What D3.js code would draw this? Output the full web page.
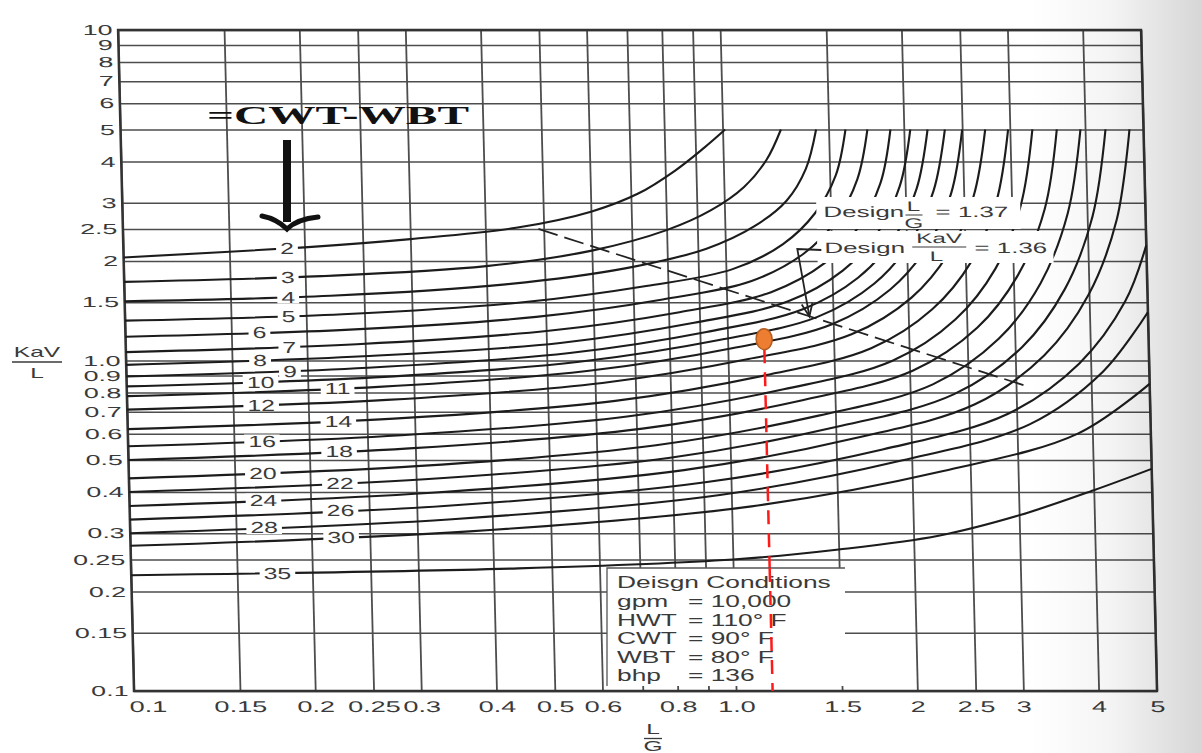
<!DOCTYPE html>
<html>
<head>
<meta charset="utf-8">
<script src="https://cdn.jsdelivr.net/npm/d3@7"></script>
<style>
  body { margin: 0; background: #fff; }
  svg { display: block; }
</style>
</head>
<body>
<svg id="chart" width="1202" height="753"></svg>
<script>
// ---- data ----
const xTicks = [0.1, 0.15, 0.2, 0.25, 0.3, 0.4, 0.5, 0.6, 0.8, 1.0, 1.5, 2, 2.5, 3, 4, 5];
const xTickLabels = ["0.1", "0.15", "0.2", "0.25", "0.3", "0.4", "0.5", "0.6", "0.8", "1.0", "1.5", "2", "2.5", "3", "4", "5"];
const xGrid = [0.1, 0.15, 0.2, 0.25, 0.3, 0.4, 0.5, 0.6, 0.7, 0.8, 0.9, 1.0, 1.5, 2, 2.5, 3, 4, 5];
const yTicks = [0.1, 0.15, 0.2, 0.25, 0.3, 0.4, 0.5, 0.6, 0.7, 0.8, 0.9, 1.0, 1.5, 2, 2.5, 3, 4, 5, 6, 7, 8, 9, 10];
const yTickLabels = ["0.1", "0.15", "0.2", "0.25", "0.3", "0.4", "0.5", "0.6", "0.7", "0.8", "0.9", "1.0", "1.5", "2", "2.5", "3", "4", "5", "6", "7", "8", "9", "10"];

// curve family, one per CWT-WBT value
const approach = [2, 3, 4, 5, 6, 7, 8, 9, 10, 11, 12, 14, 16, 18, 20, 22, 24, 26, 28, 30, 35];
const curveLG = [
  [0.1, 0.2, 0.3, 0.45, 0.6, 0.72, 0.83, 0.93, 1.01],
  [0.1, 0.213, 0.4, 0.6, 0.8, 0.95, 1.08, 1.18, 1.25],
  [0.1, 0.22, 0.43, 0.68, 0.93, 1.12, 1.27, 1.37, 1.43],
  [0.1, 0.23, 0.459, 0.736, 1.026, 1.247, 1.413, 1.535, 1.6],
  [0.1, 0.236, 0.482, 0.783, 1.102, 1.346, 1.531, 1.667, 1.74],
  [0.1, 0.242, 0.505, 0.834, 1.186, 1.459, 1.663, 1.82, 1.9],
  [0.1, 0.248, 0.527, 0.881, 1.265, 1.563, 1.791, 1.959, 2.05],
  [0.1, 0.252, 0.546, 0.923, 1.337, 1.656, 1.905, 2.089, 2.19],
  [0.1, 0.258, 0.566, 0.968, 1.413, 1.762, 2.028, 2.228, 2.34],
  [0.1, 0.262, 0.587, 1.016, 1.493, 1.871, 2.163, 2.382, 2.5],
  [0.1, 0.27, 0.617, 1.081, 1.607, 2.028, 2.35, 2.594, 2.73],
  [0.1, 0.277, 0.647, 1.151, 1.73, 2.193, 2.559, 2.831, 2.98],
  [0.1, 0.285, 0.681, 1.233, 1.875, 2.393, 2.8, 3.105, 3.27],
  [0.1, 0.293, 0.716, 1.318, 2.023, 2.6, 3.055, 3.404, 3.59],
  [0.1, 0.301, 0.753, 1.406, 2.183, 2.82, 3.327, 3.715, 3.93],
  [0.1, 0.31, 0.794, 1.507, 2.366, 3.083, 3.648, 4.083, 4.325],
  [0.1, 0.318, 0.836, 1.61, 2.559, 3.35, 3.99, 4.477, 4.74],
  [0.1, 0.333, 0.906, 1.79, 2.897, 3.83, 4.59, 5.0],
  [0.1, 0.343, 0.957, 1.923, 3.148, 4.188, 5.0],
  [0.1, 0.366, 1.079, 2.254, 3.784, 5.0],
  [0.1, 0.44, 1.0, 1.5, 2.2, 3.0, 4.0, 5.0]
];
const curveKaVL = [
  [2.05, 2.2, 2.33, 2.52, 2.82, 3.2, 3.75, 4.4, 5],
  [1.73, 1.8, 1.93, 2.15, 2.48, 2.85, 3.35, 4.05, 5],
  [1.51, 1.57, 1.7, 1.9, 2.18, 2.55, 3.05, 3.8, 5],
  [1.32, 1.38, 1.5, 1.68, 1.89, 2.25, 2.79, 3.63, 5],
  [1.18, 1.24, 1.355, 1.53, 1.74, 2.1, 2.65, 3.54, 5],
  [1.06, 1.12, 1.23, 1.4, 1.61, 1.97, 2.52, 3.44, 5],
  [0.97, 1.03, 1.13, 1.3, 1.51, 1.87, 2.43, 3.37, 5],
  [0.895, 0.951, 1.054, 1.22, 1.43, 1.78, 2.34, 3.31, 5],
  [0.835, 0.889, 0.991, 1.153, 1.355, 1.71, 2.275, 3.26, 5],
  [0.78, 0.832, 0.931, 1.089, 1.288, 1.64, 2.21, 3.2, 5],
  [0.71, 0.76, 0.855, 1.01, 1.2, 1.55, 2.12, 3.13, 5],
  [0.62, 0.667, 0.755, 0.902, 1.089, 1.429, 1.995, 3.03, 5],
  [0.55, 0.594, 0.678, 0.818, 0.998, 1.33, 1.89, 2.94, 5],
  [0.5, 0.542, 0.622, 0.757, 0.931, 1.256, 1.816, 2.877, 5],
  [0.44, 0.479, 0.554, 0.681, 0.847, 1.163, 1.714, 2.79, 5],
  [0.4, 0.437, 0.508, 0.63, 0.791, 1.099, 1.644, 2.73, 5],
  [0.363, 0.398, 0.466, 0.582, 0.737, 1.036, 1.578, 2.667, 5],
  [0.33, 0.363, 0.428, 0.538, 0.689, 0.98, 1.51, 2.23],
  [0.3, 0.331, 0.392, 0.498, 0.641, 0.925, 1.4],
  [0.275, 0.304, 0.362, 0.463, 0.601, 0.85],
  [0.224, 0.235, 0.25, 0.268, 0.295, 0.34, 0.405, 0.47]
];
// L/G where each curve's number is written
const labelLG = [0.187, 0.187, 0.187, 0.187, 0.167, 0.187, 0.167, 0.187, 0.167, 0.224, 0.167,
                 0.224, 0.167, 0.224, 0.167, 0.224, 0.167, 0.224, 0.167, 0.224, 0.175];

// design operating line and design point
const designLineLG = [0.49, 3.1];
const designLineKaVL = [2.5, 0.84];
const designLG = 1.37;
const designKaVL = 1.36;
// hand-drawn marker added on the scan
const markLG = 1.15;
const markKaVL = 1.16;

const condNames = ["gpm", "HWT", "CWT", "WBT", "bhp"];
const condValues = ["= 10,000", "= 110\u00B0 F", "= 90\u00B0 F", "= 80\u00B0 F", "= 136"];

// ---- drawing ----
const FONT = "'Liberation Sans', Arial, sans-serif";
const INK = "#3a3a3a";
const GRID = "#4d4d4d";
const SX = 1.75;   // the scan is stretched sideways, so is the lettering
const SKEW = 1.38; // degrees the scanned sheet leans
const MID = 361;

const svg = d3.select("#chart");
const defs = svg.append("defs");
const shade = defs.append("linearGradient").attr("id", "shade")
    .attr("x1", 0).attr("x2", 1).attr("y1", 0).attr("y2", 0);
shade.append("stop").attr("offset", 0).attr("stop-color", "#000").attr("stop-opacity", 0);
shade.append("stop").attr("offset", 0.45).attr("stop-color", "#000").attr("stop-opacity", 0.04);
shade.append("stop").attr("offset", 1).attr("stop-color", "#000").attr("stop-opacity", 0.16);

const root = svg.append("g")
    .attr("transform", `translate(0,${MID}) skewX(${SKEW}) translate(0,${-MID})`);
const skewShift = v => Math.tan(SKEW * Math.PI / 180) * (v - MID);

const x = d3.scaleLog().domain([0.1, 5]).range([126, 1149]);
const y = d3.scaleLog().domain([0.1, 10]).range([691, 30]);

function stext(parent, px, py, str, size, sx, anchor) {
    return parent.append("text")
        .attr("transform", `translate(${px},${py}) scale(${sx},1)`)
        .attr("text-anchor", anchor || "start")
        .attr("font-family", FONT)
        .attr("font-size", size)
        .attr("fill", INK)
        .text(str);
}

// grid + tick labels via axes
const xAxis = root.append("g")
    .attr("transform", `translate(0,${y(0.1)})`)
    .call(d3.axisBottom(x)
        .tickValues(xGrid)
        .tickSize(-(y(0.1) - y(10)))
        .tickPadding(10)
        .tickFormat(d => {
            const i = xTicks.indexOf(d);
            return i < 0 ? "" : xTickLabels[i];
        }))
    .attr("font-family", FONT)
    .attr("font-size", 15.5);
xAxis.select(".domain").remove();
xAxis.selectAll(".tick line").attr("stroke", GRID).attr("stroke-width", 1.8);
xAxis.selectAll(".tick text")
    .attr("fill", INK)
    .attr("transform", `scale(${SX},1)`);
xAxis.selectAll(".tick text").filter(d => d === 0.1)
    .attr("text-anchor", "start").attr("x", -3);

const yAxis = root.append("g")
    .attr("transform", `translate(${x(0.1)},0)`)
    .call(d3.axisLeft(y)
        .tickValues(yTicks)
        .tickSize(-(x(5) - x(0.1)))
        .tickPadding(3)
        .tickFormat(d => yTickLabels[yTicks.indexOf(d)]))
    .attr("font-family", FONT)
    .attr("font-size", 14.5);
yAxis.select(".domain").remove();
yAxis.selectAll(".tick line").attr("stroke", GRID).attr("stroke-width", 1.5);
yAxis.selectAll(".tick text")
    .attr("fill", INK)
    .attr("transform", `scale(1.85,1)`);

root.append("rect")
    .attr("x", x(0.1)).attr("y", y(10))
    .attr("width", x(5) - x(0.1)).attr("height", y(0.1) - y(10))
    .attr("fill", "none").attr("stroke", "#333").attr("stroke-width", 2.4);

// curves
const line = d3.line()
    .x(d => x(d[0]))
    .y(d => y(d[1]))
    .curve(d3.curveCatmullRom.alpha(0.5));

const curveGroup = root.append("g").attr("id", "curves");
approach.forEach((a, i) => {
    const pts = curveLG[i].map((v, j) => [v, curveKaVL[i][j]]);
    curveGroup.append("path")
        .attr("d", line(pts))
        .attr("fill", "none")
        .attr("stroke", "#1c1c1c")
        .attr("stroke-width", 2.1);
});

// design operating line
root.append("path")
    .attr("d", d3.line().x(d => x(d[0])).y(d => y(d[1]))(designLineLG.map((v, i) => [v, designLineKaVL[i]])))
    .attr("fill", "none")
    .attr("stroke", "#222")
    .attr("stroke-width", 1.8)
    .attr("stroke-dasharray", "20,7");

// curve numbers, written on top of the curves
function kAt(i, lg) {
    const xs = curveLG[i], ks = curveKaVL[i];
    for (let j = 0; j < xs.length - 1; j++) {
        if (lg >= xs[j] && lg <= xs[j + 1]) {
            const t = (Math.log(lg) - Math.log(xs[j])) / (Math.log(xs[j + 1]) - Math.log(xs[j]));
            return Math.exp(Math.log(ks[j]) + t * (Math.log(ks[j + 1]) - Math.log(ks[j])));
        }
    }
    return ks[0];
}
const LSX = 1.55;
const labelGroup = root.append("g").attr("id", "curve-labels");
approach.forEach((a, i) => {
    const px = x(labelLG[i]);
    const py = y(kAt(i, labelLG[i]));
    const g = labelGroup.append("g");
    const t = stext(g, px, py + 6, String(a), 16, LSX, "middle");
    const w = t.node().getComputedTextLength() * LSX;
    g.insert("rect", "text")
        .attr("x", px - w / 2 - 4).attr("y", py - 6.5)
        .attr("width", w + 8).attr("height", 13)
        .attr("fill", "#fff");
});

// design labels
const dsx = 1.73;
const ann = root.append("g").attr("id", "design-labels");
ann.append("rect").attr("x", 820).attr("y", 197).attr("width", 204).attr("height", 32).attr("fill", "#fff");
ann.append("rect").attr("x", 820).attr("y", 231).attr("width", 236).attr("height", 32).attr("fill", "#fff");
stext(ann, 827, 217, "Design", 15, dsx);
stext(ann, 917, 211, "L", 14, dsx, "middle");
ann.append("line").attr("x1", 909).attr("x2", 926).attr("y1", 215).attr("y2", 215).attr("stroke", INK).attr("stroke-width", 1.2);
stext(ann, 917, 228, "G", 14, dsx, "middle");
stext(ann, 939, 217, "= 1.37", 15, dsx);
stext(ann, 827, 253, "Design", 15, dsx);
stext(ann, 942, 243, "KaV", 14, dsx, "middle");
ann.append("line").attr("x1", 915).attr("x2", 969).attr("y1", 247).attr("y2", 247).attr("stroke", INK).attr("stroke-width", 1.2);
stext(ann, 939, 261, "L", 14, dsx, "middle");
stext(ann, 977, 253, "= 1.36", 15, dsx);

// pointer from the label to the design point
const tipX = x(designLG), tipY = y(designKaVL);
const bx = 800, by = 249;
ann.append("path")
    .attr("d", `M${824},${250} L${bx},${by} L${tipX},${tipY}`)
    .attr("fill", "none").attr("stroke", "#222").attr("stroke-width", 1.8);
const ang = Math.atan2(tipY - by, tipX - bx);
const head = [ang + Math.PI - 0.4, ang + Math.PI + 0.4]
    .map(a => [tipX + 14 * Math.cos(a), tipY + 14 * Math.sin(a)]);
ann.append("path")
    .attr("d", `M${head[0][0]},${head[0][1]} L${tipX},${tipY} L${head[1][0]},${head[1][1]}`)
    .attr("fill", "none").attr("stroke", "#222").attr("stroke-width", 1.8);

// red marker line (upper part)
const mx = x(markLG), my = y(markKaVL);
root.append("line")
    .attr("x1", mx).attr("x2", mx)
    .attr("y1", my + 10).attr("y2", y(0.1))
    .attr("stroke", "#ff1a1a").attr("stroke-width", 2.5)
    .attr("stroke-dasharray", "14,9");

// axis titles (outside the leaning group)
stext(svg, 37, 357, "KaV", 14, SX, "middle");
svg.append("line").attr("x1", 12).attr("x2", 62).attr("y1", 362).attr("y2", 362).attr("stroke", INK).attr("stroke-width", 1.3);
stext(svg, 37, 378, "L", 14, SX, "middle");
stext(svg, 653, 734, "L", 14, SX, "middle");
svg.append("line").attr("x1", 644).attr("x2", 662).attr("y1", 738.5).attr("y2", 738.5).attr("stroke", INK).attr("stroke-width", 1.3);
stext(svg, 653, 751, "G", 14, SX, "middle");

// CWT-WBT heading with its arrow
svg.append("text")
    .attr("x", 207).attr("y", 124)
    .attr("font-family", "'Liberation Serif', 'Times New Roman', serif")
    .attr("font-weight", "bold")
    .attr("font-size", 25)
    .attr("textLength", 262)
    .attr("lengthAdjust", "spacingAndGlyphs")
    .attr("fill", "#111")
    .text("=CWT-WBT");
svg.append("line")
    .attr("x1", 287).attr("x2", 287).attr("y1", 140).attr("y2", 222)
    .attr("stroke", "#111").attr("stroke-width", 8);
svg.append("path")
    .attr("d", "M262,216 Q277,219 287,229 Q297,219 318,217")
    .attr("fill", "none").attr("stroke", "#111").attr("stroke-width", 5)
    .attr("stroke-linecap", "round");

// design conditions box
const box = svg.append("g").attr("id", "conditions");
box.append("rect").attr("x", 607).attr("y", 568).attr("width", 238).attr("height", 118).attr("fill", "#fff");
box.append("path").attr("d", "M607,686 L607,568 L845,568").attr("fill", "none").attr("stroke", "#555").attr("stroke-width", 1.3);
const csx = 1.55;
stext(box, 617, 588, "Deisgn Conditions", 17, csx);
condNames.forEach((n, i) => {
    stext(box, 617, 607 + i * 18.6, n, 17, csx);
    stext(box, 688, 607 + i * 18.6, condValues[i], 17, csx);
});

// red line continues over the box, then the dot
svg.append("line")
    .attr("x1", mx + skewShift(568)).attr("x2", mx + skewShift(y(0.1)))
    .attr("y1", 568).attr("y2", y(0.1))
    .attr("stroke", "#ff1a1a").attr("stroke-width", 2.5)
    .attr("stroke-dasharray", "14,9");
root.append("ellipse")
    .attr("cx", mx).attr("cy", my)
    .attr("rx", 8).attr("ry", 10.5)
    .attr("fill", "#ed7d31").attr("stroke", "#b35d1f").attr("stroke-width", 1.5);

// scanner shadow on the right edge
svg.append("rect")
    .attr("x", 1030).attr("y", 0).attr("width", 172).attr("height", 753)
    .attr("fill", "url(#shade)");
</script>
</body>
</html>
